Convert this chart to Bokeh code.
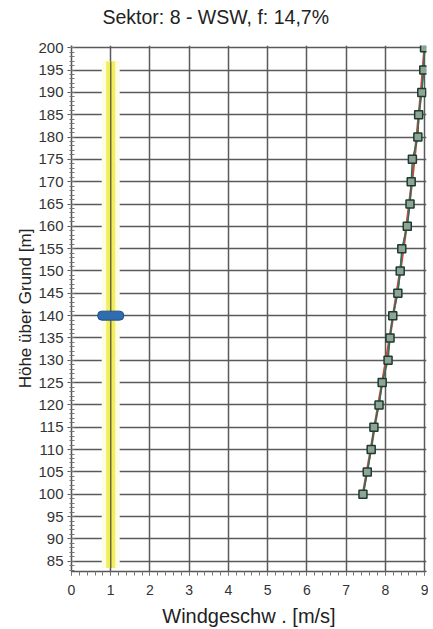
from bokeh.plotting import figure
from bokeh.models import Range1d, FixedTicker, Title
from bokeh.embed import file_html
from bokeh.resources import INLINE

# --- data ---
heights = [100, 105, 110, 115, 120, 125, 130, 135, 140, 145, 150,
           155, 160, 165, 170, 175, 180, 185, 190, 195, 200]
speeds = [7.43, 7.54, 7.64, 7.71, 7.84, 7.92, 8.07, 8.12, 8.19, 8.32, 8.38,
          8.42, 8.56, 8.63, 8.66, 8.69, 8.83, 8.85, 8.93, 8.98, 9.0]
fit_heights = [100, 110, 120, 130, 140, 150, 160, 170, 180, 190, 200]
fit_speeds = [7.43, 7.63, 7.82, 8.02, 8.2, 8.38, 8.54, 8.68, 8.8, 8.91, 9.0]
band_x = [1.0]
band_bottom = [83.5]
band_top = [197.0]
hub_x = [1.0]
hub_y = [140]
y_ticks = list(range(85, 201, 5))
y_minor = list(range(83, 201, 1))
x_ticks = list(range(0, 10))
x_minor = [i / 5 for i in range(0, 46)]

title = "Sektor: 8 - WSW, f: 14,7%"
FONT = "Liberation Sans"

p = figure(width=428, height=629, output_backend="svg", toolbar_location=None,
           x_range=Range1d(0, 9.05), y_range=Range1d(82.7, 200.5),
           min_border_left=71, min_border_right=2, min_border_top=45,
           min_border_bottom=57)
p.outline_line_color = None
p.background_fill_color = "white"

# spacer between frame and title (nearest to frame), then the real title
p.add_layout(Title(text=" ", text_font_size="1px", standoff=8), "above")
p.add_layout(Title(text=title, text_font=FONT, text_font_size="19.5px",
                   text_font_style="normal", text_color="#222222",
                   align="left", offset=31, vertical_align="top",
                   standoff=10), "above")

# grid
p.xgrid.grid_line_color = "#5a5a5a"
p.xgrid.grid_line_width = 1.5
p.ygrid.grid_line_color = "#5a5a5a"
p.ygrid.grid_line_width = 1.5

# axes
p.xaxis.ticker = FixedTicker(ticks=x_ticks, minor_ticks=x_minor)
p.yaxis.ticker = FixedTicker(ticks=y_ticks, minor_ticks=y_minor)
for ax in (p.xaxis[0], p.yaxis[0]):
    ax.axis_line_color = "#555555"
    ax.axis_line_width = 1.5
    ax.major_tick_line_color = "#555555"
    ax.minor_tick_line_color = "#777777"
    ax.minor_tick_line_width = 1
    ax.major_tick_out = 4
    ax.major_tick_in = 3
    ax.minor_tick_out = 2
    ax.minor_tick_in = 3
    ax.major_label_text_font = FONT
    ax.major_label_text_color = "#333333"
    ax.axis_label_text_font = FONT
    ax.axis_label_text_font_style = "normal"
    ax.axis_label_text_color = "#222222"

p.xaxis.major_label_text_font_size = "14px"
p.yaxis.major_label_text_font_size = "15px"
p.xaxis.axis_label_text_font_size = "20px"
p.yaxis.axis_label_text_font_size = "17px"
p.xaxis.minor_tick_out = 4
p.xaxis.minor_tick_in = 0
p.xaxis.major_label_standoff = 9
p.xaxis.axis_label = "Windgeschw . [m/s]"
p.xaxis.axis_label_standoff = 7
p.yaxis.major_label_standoff = 4
p.yaxis.axis_label = "Höhe über Grund [m]"
p.yaxis.axis_label_standoff = 0

# yellow band
p.segment(x0=band_x, y0=band_bottom, x1=band_x, y1=band_top,
          line_color="#fdfce4", line_width=18)
p.segment(x0=band_x, y0=band_bottom, x1=band_x, y1=band_top,
          line_color="#f3ef5c", line_width=9)
p.segment(x0=band_x, y0=band_bottom, x1=band_x, y1=band_top,
          line_color="#6b6b40", line_width=1.5)

# hub marker
p.rect(x=hub_x, y=hub_y, width=26, height=9, width_units="screen",
       height_units="screen", fill_color="#2f6db0", line_color="#1f4f88",
       border_radius=4)

# profile
p.line(fit_speeds, fit_heights, line_color="#c0503a", line_width=2.5)
p.line(speeds, heights, line_color="#2d6f60", line_width=1.5)
p.scatter(speeds, heights, marker="square", size=8, fill_color="#8ea596",
          line_color="#1d3b30", line_width=1.5)

open("out.html", "w").write(file_html(p, INLINE))
